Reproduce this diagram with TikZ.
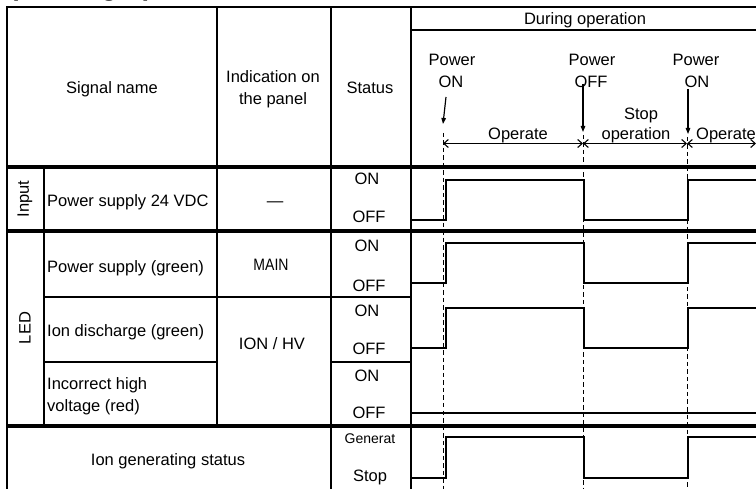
\documentclass[tikz,border=0pt]{standalone}
\usepackage{fontspec}
\setmainfont{Liberation Sans}
\usetikzlibrary{arrows.meta}
\newcommand\fsA{\fontsize{16.5}{20}\selectfont}
\newcommand\fsB{\fontsize{14}{17}\selectfont}
\begin{document}
\begin{tikzpicture}[x=1pt,y=-1pt,
  tl/.style={line width=1.7pt},
  tk/.style={line width=3.8pt},
  wave/.style={line width=2.6pt, line join=miter},
  dsh/.style={line width=0.9pt, dash pattern=on 4.5pt off 3pt},
  dimline/.style={line width=1.1pt, {Straight Barb[length=4.5pt,width=8pt]}-{Straight Barb[length=4.5pt,width=8pt]}},
  parr/.style={line width=1.2pt, -{Triangle[length=6pt,width=4.5pt]}},
  t/.style={font=\fsA, inner sep=0pt, anchor=base},
  tw/.style={font=\fsA, inner sep=0pt, anchor=base west}]
\path[use as bounding box] (0,0) rectangle (756,489);
\clip (0,0) rectangle (756,489);

% cut-off title
\node[font=\fontsize{27}{30}\selectfont\bfseries, anchor=base west, inner sep=0pt] (title) at (-10,-4.5) {(1) During operation};

% table grid
\draw[tl] (7,489) -- (7,7) -- (756,7);
\draw[tl] (217,7) -- (217,426);
\draw[tl] (331,7) -- (331,489);
\draw[tl] (411,7) -- (411,489);
\draw[tl] (44,167) -- (44,426);
\draw[tl] (411,30) -- (756,30);
\draw[tl] (44,297) -- (411,297);
\draw[tl] (44,362) -- (217,362) (331,362) -- (411,362);
\draw[tk] (7,167) -- (756,167);
\draw[tk] (7,231) -- (756,231);
\draw[tk] (7,426) -- (756,426);

% dashed event lines
\draw[dsh] (443,133) -- (443,489);
\draw[dsh] (583,135) -- (583,489);
\draw[dsh] (687,137) -- (687,489);

% waveforms
\draw[wave] (411,220) -| (446,180) -| (584,220) -| (688,180) -- (756,180);
\draw[wave] (411,283) -| (446,243) -| (584,283) -| (688,243) -- (756,243);
\draw[wave] (411,348) -| (446,308) -| (584,348) -| (688,308) -- (756,308);
\draw[wave] (411,413) -- (756,413);
\draw[wave] (411,478) -| (446,437) -| (584,478) -| (688,437) -- (756,437);

% header texts
\node[t] (hsig) at (112,94) {Signal name};
\node[t] (hind1) at (273,83) {Indication on};
\node[t] (hind2) at (273,105) {the panel};
\node[t] (hstat) at (370,94) {Status};
\node[t] (hdur) at (585,25) {During operation};
\node[t] (p1a) at (452,66) {Power};
\node[t] (p1b) at (451,88) {ON};
\node[t] (p2a) at (592,66) {Power};
\node[t] (p2b) at (591,88) {OFF};
\node[t] (p3a) at (696,66) {Power};
\node[t] (p3b) at (697,88) {ON};
\node[t] (op1) at (518,140) {Operate};
\node[t] (stop1) at (641,120) {Stop};
\node[t] (stop2) at (636,140) {operation};
\node[t] (op2) at (726,140) {Operate};

% power event arrows
\coordinate (a1s) at (446,97);  \coordinate (a1e) at (443,124);
\coordinate (a2s) at (583,84);  \coordinate (a2e) at (583,132);
\coordinate (a3s) at (688,89);  \coordinate (a3e) at (688,134);
\draw[parr] (a1s) -- (a1e);
\draw[parr] (a2s) -- (a2e);
\draw[parr] (a3s) -- (a3e);

% duration arrows
\coordinate (e1) at (443,143.5);
\coordinate (e2) at (583,143.5);
\coordinate (e3) at (687,143.5);
\coordinate (e4) at (756,143.5);
\draw[dimline] (e1) -- (e2);
\draw[dimline] (e2) -- (e3);
\draw[dimline] (e3) -- (e4);

% row labels
\node[font=\fsA, inner sep=0pt, rotate=90] (inp) at (25,199) {Input};
\node[font=\fsA, inner sep=0pt, rotate=90] (led) at (25,328) {LED};

\node[tw] (n1) at (47,207) {Power supply 24 VDC};
\node[t] (d1) at (275,207) {—};
\node[t] (s1on) at (367,185) {ON};
\node[t] (s1off) at (369,223) {OFF};

\node[tw] (n2) at (47,273) {Power supply (green)};
\node[t] (i2) at (271,271) {\scalebox{0.85}[1]{MAIN}};
\node[t] (s2on) at (367,252) {ON};
\node[t] (s2off) at (369,292) {OFF};

\node[tw] (n3) at (47,337) {Ion discharge (green)};
\node[t] (i3) at (272,350) {ION / HV};
\node[t] (s3on) at (367,317) {ON};
\node[t] (s3off) at (369,355) {OFF};

\node[tw] (n4a) at (47,390) {Incorrect high};
\node[tw] (n4b) at (47,412) {voltage (red)};
\node[t] (s4on) at (367,382) {ON};
\node[t] (s4off) at (369,418) {OFF};

\node[t] (n5) at (168,465) {Ion generating status};
\node[t, font=\fsB] (s5a) at (370,443) {Generat};
\node[t] (s5b) at (370,482) {Stop};
\end{tikzpicture}
\end{document}
